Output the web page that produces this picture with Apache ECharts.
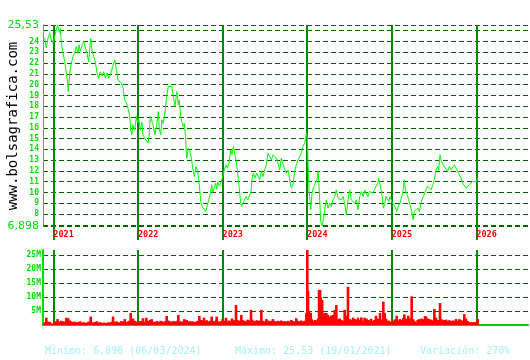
<!DOCTYPE html>
<html><head><meta charset="utf-8">
<script src="https://cdn.jsdelivr.net/npm/echarts@6/dist/echarts.min.js"></script>
<style>html,body{margin:0;padding:0;background:#fff}#c{width:530px;height:360px}</style>
</head><body><div id="c"></div>
<script>
// decimal-year dates of the sampled points
const dates = [
2020.898,2020.917,2020.937,2020.957,2020.976,2020.996,2021.017,2021.035,2021.050,2021.076,
2021.083,2021.095,2021.115,2021.135,2021.154,2021.165,2021.177,2021.194,2021.213,2021.233,
2021.253,2021.272,2021.292,2021.304,2021.319,2021.343,2021.359,2021.378,2021.398,2021.418,
2021.430,2021.442,2021.457,2021.478,2021.496,2021.517,2021.537,2021.556,2021.576,2021.596,
2021.615,2021.635,2021.655,2021.674,2021.694,2021.706,2021.726,2021.745,2021.765,2021.785,
2021.804,2021.824,2021.844,2021.863,2021.883,2021.903,2021.915,2021.927,2021.942,2021.962,
2021.981,2021.993,2022.009,2022.028,2022.048,2022.060,2022.080,2022.099,2022.119,2022.131,
2022.147,2022.163,2022.178,
2022.202,2022.222,2022.241,2022.253,2022.270,2022.281,2022.300,2022.320,2022.340,2022.359,
2022.379,2022.400,2022.418,2022.439,2022.459,2022.478,2022.489,2022.506,2022.525,2022.537,
2022.549,2022.565,2022.577,2022.596,2022.616,2022.636,2022.648,2022.667,2022.687,2022.707,
2022.726,2022.742,2022.761,2022.781,2022.801,2022.813,2022.832,2022.852,2022.872,2022.884,
2022.900,2022.920,2022.931,2022.943,2022.962,2022.982,2023.002,2023.021,2023.041,2023.057,
2023.077,2023.097,2023.112,2023.128,2023.144,2023.160,2023.175,2023.187,2023.199,2023.207,
2023.222,2023.239,2023.258,2023.278,2023.298,2023.317,2023.337,2023.349,2023.364,2023.384,
2023.404,2023.423,
2023.440,2023.459,2023.479,2023.499,2023.518,2023.538,2023.558,2023.577,2023.597,2023.617,
2023.636,2023.656,2023.676,2023.695,2023.715,2023.735,2023.754,2023.774,2023.794,2023.813,
2023.833,2023.853,2023.872,2023.892,2023.913,2023.931,2023.952,2023.972,2023.991,2024.002,
2024.011,2024.022,2024.034,2024.043,2024.058,2024.078,2024.097,2024.117,2024.129,2024.141,
2024.153,2024.161,2024.178,2024.191,2024.208,2024.227,2024.247,2024.267,2024.286,2024.306,
2024.326,2024.345,2024.365,2024.385,2024.404,2024.424,2024.444,2024.463,2024.483,2024.504,
2024.522,2024.543,2024.563,2024.582,2024.602,2024.622,2024.641,2024.661,2024.681,2024.700,
2024.720,
2024.735,2024.755,2024.775,2024.794,2024.814,2024.835,2024.846,2024.862,2024.882,2024.901,
2024.917,2024.933,2024.948,2024.965,2024.980,2025.000,2025.019,2025.039,2025.059,2025.078,
2025.098,2025.118,2025.137,2025.149,2025.161,2025.177,2025.196,2025.216,2025.236,2025.252,
2025.267,2025.287,2025.307,2025.326,2025.338,2025.355,2025.374,2025.394,2025.405,2025.426,
2025.444,2025.465,2025.485,2025.504,2025.524,2025.544,2025.556,2025.571,2025.586,2025.603,
2025.622,2025.642,2025.662,2025.681,2025.701,2025.721,2025.740,2025.760,2025.780,2025.799,
2025.819,2025.839,2025.858,2025.878,2025.898,2025.917,2025.937,2025.957,2025.976,2025.997,
2026.017
];
const prices = [
24.31,23.4,24.3,24.8,24.16,23.85,24.0,25.08,25.53,24.8,
25.2,23.85,22.9,22.14,21.07,20.45,19.36,21.07,22.0,22.6,
22.9,23.53,22.9,23.7,23.1,23.7,24.0,23.5,22.9,22.1,
23.2,24.3,23.2,22.6,22.1,21.07,20.6,21.2,20.8,21.2,
20.6,21.07,20.6,20.9,21.07,21.8,22.3,21.4,20.45,20.45,
20.1,19.7,18.6,18.3,17.8,17.05,15.8,15.35,16.3,15.8,
17.05,16.5,16.8,15.8,16.5,15.35,15.05,15.2,14.6,15.2,
17.05,17.2,16.3,
15.35,16.28,17.5,15.9,15.35,16.74,16.4,17.5,18.9,19.83,
20.0,19.83,18.9,17.97,19.36,18.13,18.6,17.05,16.4,16.12,
16.4,14.9,13.19,14.12,13.8,13.0,12.26,11.48,12.4,11.95,
10.72,9.17,8.7,8.8,8.24,8.6,9.17,9.79,10.72,10.0,
10.4,10.87,10.3,11.0,10.6,10.9,11.48,12.1,12.57,12.26,
12.7,13.96,13.5,14.27,14.4,13.0,12.1,11.18,10.4,9.63,
8.7,9.0,9.17,9.63,9.3,9.17,10.1,11.34,11.8,11.34,
11.8,11.5,
11.2,11.95,11.48,12.1,12.57,13.65,13.34,13.03,13.5,13.65,
13.19,12.72,12.1,13.19,13.03,12.1,11.8,12.1,11.18,10.41,
10.72,11.95,12.57,13.03,13.03,13.65,14.27,14.58,15.5,15.05,
12.72,10.25,9.32,8.4,9.95,10.56,10.87,11.18,11.95,10.56,
8.7,7.3,6.898,7.5,8.4,9.32,8.55,9.0,8.7,9.32,
9.63,10.25,9.47,9.63,9.32,9.63,9.0,7.93,9.32,10.25,
9.32,9.47,9.0,9.32,8.4,9.63,10.1,9.63,10.25,10.1,
9.63,
10.1,10.25,9.95,10.25,10.4,10.87,11.34,10.72,9.95,8.56,
8.87,9.63,9.79,9.17,9.63,9.17,9.0,8.7,8.24,8.7,
9.0,9.63,10.25,11.18,10.25,10.4,9.48,8.87,8.24,7.47,
8.24,8.4,8.56,8.24,8.7,9.32,9.63,9.63,10.25,10.56,
10.4,10.25,10.72,11.18,12.1,12.41,12.1,13.5,12.88,12.72,
12.41,12.57,11.95,12.41,12.1,12.26,12.57,12.26,11.95,11.64,
11.34,10.87,10.72,10.4,10.56,10.72,10.87,11.03,11.18,11.03,
11.34
];
// volume in millions
const volumes = [
1.0,2.6,1.2,1.1,0.6,0.4,1.0,1.3,2.1,1.2,
1.0,1.5,1.3,1.2,2.6,1.4,2.4,1.6,1.3,1.0,
1.2,0.9,1.1,1.0,1.3,0.8,1.0,0.7,0.9,1.2,
0.8,3.0,1.0,0.9,1.1,1.3,0.8,1.0,0.7,0.9,
0.6,0.8,1.0,0.9,1.2,3.0,1.1,1.3,1.0,0.9,
1.4,1.2,2.1,1.0,1.3,1.6,4.3,1.8,2.3,1.5,
1.2,1.0,1.1,1.4,1.3,2.4,1.2,2.6,1.5,1.3,
1.8,2.1,1.2,
1.1,1.4,1.2,1.0,1.5,1.3,1.0,1.4,3.2,1.6,
1.3,1.1,1.4,1.2,1.5,3.6,1.4,1.2,1.0,1.3,
2.1,1.5,1.8,1.2,1.4,1.1,1.3,1.0,1.2,1.5,
3.2,1.8,1.6,2.6,1.4,1.7,1.3,1.5,3.0,1.4,
1.2,1.6,3.0,1.3,1.1,1.4,2.1,1.5,2.6,1.3,
1.6,1.2,2.3,1.5,1.8,7.1,1.8,1.6,1.4,1.3,
3.6,1.7,1.5,1.3,1.9,1.6,5.4,2.0,1.5,1.4,
1.7,1.5,
1.6,5.4,1.5,1.3,2.1,1.6,1.3,1.5,2.1,1.4,
1.2,1.5,1.3,1.6,1.2,1.4,1.1,1.5,1.2,1.8,
1.4,1.3,2.4,1.5,1.3,1.6,1.2,1.5,4.2,26.7,
12.1,5.0,3.6,4.3,2.0,1.4,1.8,1.5,2.3,12.5,
12.5,9.8,8.9,3.6,4.3,4.3,3.6,2.8,3.3,3.6,
5.4,7.1,2.1,2.3,1.8,1.5,5.4,3.3,13.6,2.1,
1.8,2.6,2.1,1.9,2.6,1.7,2.7,1.5,2.6,2.3,
1.8,
1.6,2.2,1.4,1.8,3.3,2.3,1.6,4.3,2.0,8.3,
4.3,2.3,1.4,1.6,1.2,0.8,1.5,2.0,3.3,1.6,
2.1,1.8,2.5,3.8,2.4,2.0,3.3,2.3,10.2,2.1,
1.5,1.0,1.8,2.1,1.7,2.3,2.0,3.2,3.0,2.3,
2.1,1.9,1.6,5.7,2.6,1.8,1.7,7.8,2.1,1.6,
1.8,1.9,1.5,1.7,1.4,1.6,1.5,2.1,1.4,2.1,
1.7,1.5,3.9,2.3,1.4,1.0,1.0,1.0,1.0,1.1,
2.1
];
const yearTicks = [2021, 2022, 2023, 2024, 2025, 2026];
const priceMin = 6.898, priceMax = 25.53;
const priceGridTicks = [priceMin,7,8,9,10,11,12,13,14,15,16,17,18,19,20,21,22,23,24,25,priceMax];
const priceLabels = [priceMin,8,9,10,11,12,13,14,15,16,17,18,19,20,21,22,23,24,priceMax];
const volMax = 26.7;
const volTicks = [5, 10, 15, 20, 25];
const xMin = 2020.878, xMax = 2026.611;
const footer = ['Mínimo: 6,898 (06/03/2024)', 'Máximo: 25,53 (19/01/2021)', 'Variación: 270%'];

const dash = {color:'#006400', type:[5,3], width:1};
const yearLine = {color:'#008800', width:2};
const chart = echarts.init(document.getElementById('c'), null, {renderer:'canvas'});
chart.setOption({
  animation:false,
  backgroundColor:'#ffffff',
  grid:[
    {left:43, right:2, top:25, height:201},
    {left:43, right:2, top:250, height:75}
  ],
  xAxis:[
    {type:'value', gridIndex:0, min:xMin, max:xMax,
     axisLine:{show:false},
     axisTick:{show:true, customValues:yearTicks, length:14, lineStyle:yearLine},
     axisLabel:{customValues:yearTicks, align:'left', margin:4, color:'#ff0000',
       fontFamily:'DejaVu Sans Mono', fontWeight:'bold', fontSize:8.5, formatter:v=>String(v)},
     splitLine:{show:true, lineStyle:yearLine}},
    {type:'value', gridIndex:1, min:xMin, max:xMax,
     axisLine:{show:true, onZero:false, lineStyle:{color:'#00cc00', width:2}},
     axisTick:{show:false, customValues:yearTicks},
     axisLabel:{show:false},
     splitLine:{show:true, lineStyle:yearLine}}
  ],
  yAxis:[
    {type:'value', gridIndex:0, min:priceMin, max:priceMax,
     axisLine:{show:true, lineStyle:{color:'#00e000', width:1}},
     axisTick:{show:false, customValues:priceGridTicks},
     axisLabel:{customValues:priceLabels, margin:4, color:'#00e000',
       fontFamily:'DejaVu Sans Mono', fontWeight:'bold', fontSize:8,
       formatter:v=>{
         if (Math.abs(v-priceMax)<1e-6) return '{big|25,53}';
         if (Math.abs(v-priceMin)<1e-6) return '{big|6,898}';
         return String(v);
       },
       rich:{big:{fontSize:11, fontFamily:'DejaVu Sans', color:'#00e000', fontWeight:'normal'}}},
     splitLine:{show:true, lineStyle:dash}},
    {type:'value', gridIndex:1, min:0, max:volMax,
     axisLine:{show:true, lineStyle:{color:'#00e000', width:2}},
     axisTick:{show:false, customValues:volTicks},
     axisLabel:{customValues:volTicks, margin:2, color:'#00e000',
       fontFamily:'DejaVu Sans Mono', fontWeight:'bold', fontSize:8,
       formatter:v=>v+'M'},
     splitLine:{show:true, lineStyle:dash}}
  ],
  series:[
    {type:'line', xAxisIndex:0, yAxisIndex:0, showSymbol:false, symbol:'none',
     data:dates.map((d,i)=>[d, prices[i]]),
     lineStyle:{color:'#00ff00', width:1}},
    {type:'bar', xAxisIndex:1, yAxisIndex:1, barWidth:2.6,
     data:dates.map((d,i)=>[d, volumes[i]]),
     itemStyle:{color:'#ff0000'}}
  ],
  graphic:[
    {type:'text', x:13, y:126, rotation:Math.PI/2,
     style:{text:'www.bolsagrafica.com', font:'14px "DejaVu Sans Mono"', fill:'#000000', align:'center', verticalAlign:'middle'}},
    {type:'text', left:45, top:346, style:{text:footer[0], font:'10px "DejaVu Sans Mono"', fill:'#a8f0f4'}},
    {type:'text', left:235, top:346, style:{text:footer[1], font:'10px "DejaVu Sans Mono"', fill:'#a8f0f4'}},
    {type:'text', left:420, top:346, style:{text:footer[2], font:'10px "DejaVu Sans Mono"', fill:'#a8f0f4'}}
  ]
});
</script></body></html>
